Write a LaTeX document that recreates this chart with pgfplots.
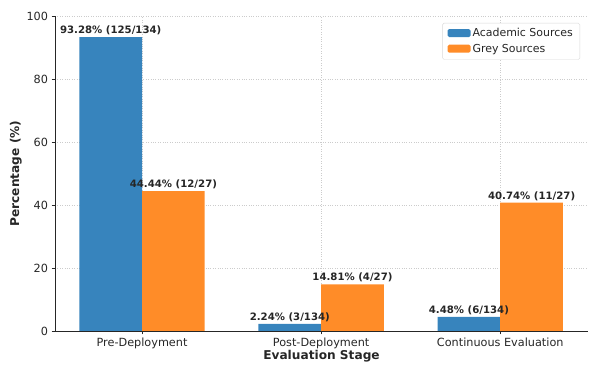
\documentclass[border=0pt]{standalone}
\usepackage{fontspec}
\setmainfont{DejaVu Sans}
\usepackage{pgfplots}
\pgfplotsset{compat=1.18}
\usetikzlibrary{calc}
\definecolor{acad}{HTML}{3784BD}
\definecolor{grey}{HTML}{FF8C28}
\definecolor{txt}{HTML}{262626}
\begin{document}
\begin{tikzpicture}
\begin{axis}[
  scale only axis, width=533bp, height=315bp,
  xmin=-0.486, xmax=2.49, ymin=0, ymax=100,
  axis x line*=bottom, axis y line*=left,
  axis line style={txt, line width=0.8pt, -},
  xtick={0,1,2},
  xticklabels={Pre-Deployment,Post-Deployment,Continuous Evaluation},
  ytick={0,20,40,60,80,100},
  tick align=outside, major tick length=3.5pt,
  tick style={txt, line width=0.8pt},
  tick label style={font=\fontsize{11.3}{13}\selectfont, text=txt},
  /pgf/number format/assume math mode=true,
  grid=major, grid style={gray!40, dotted, line width=0.6pt},
  xlabel={\textbf{Evaluation Stage}},
  ylabel={\textbf{Percentage (\%)}},
  label style={font=\fontsize{12.2}{14}\selectfont, text=txt},
  xlabel style={yshift=5pt},
  ylabel style={yshift=-2pt},
  ybar, bar width=0.35,
  nodes near coords, point meta=explicit symbolic,
  every node near coord/.append style={font=\bfseries\fontsize{10.2}{12}\selectfont, text=txt, inner sep=2pt},
  legend style={at={(0.985,0.978)}, anchor=north east, draw=gray!30, rounded corners=1.5pt,
    font=\fontsize{11}{13}\selectfont, text=txt, row sep=2pt, inner xsep=5pt, inner ysep=3.5pt,
    cells={anchor=west}},
  legend image code/.code={\fill[#1] (0pt,-3.5pt) rectangle (23pt,4.5pt);},
]
\addplot[fill=acad, draw=none, bar shift=-0.175] coordinates {
  (0,93.28) [93.28\% (125/134)]
  (1,2.24) [2.24\% (3/134)]
  (2,4.48) [4.48\% (6/134)]
};
\addplot[fill=grey, draw=none, bar shift=0.175] coordinates {
  (0,44.44) [44.44\% (12/27)]
  (1,14.81) [14.81\% (4/27)]
  (2,40.74) [40.74\% (11/27)]
};
\legend{Academic Sources, Grey Sources}
\end{axis}
\pgfresetboundingbox
\path ($(current axis.south west)+(-55bp,-43bp)$) rectangle ($(current axis.north east)+(10bp,16bp)$);
\end{tikzpicture}
\end{document}
